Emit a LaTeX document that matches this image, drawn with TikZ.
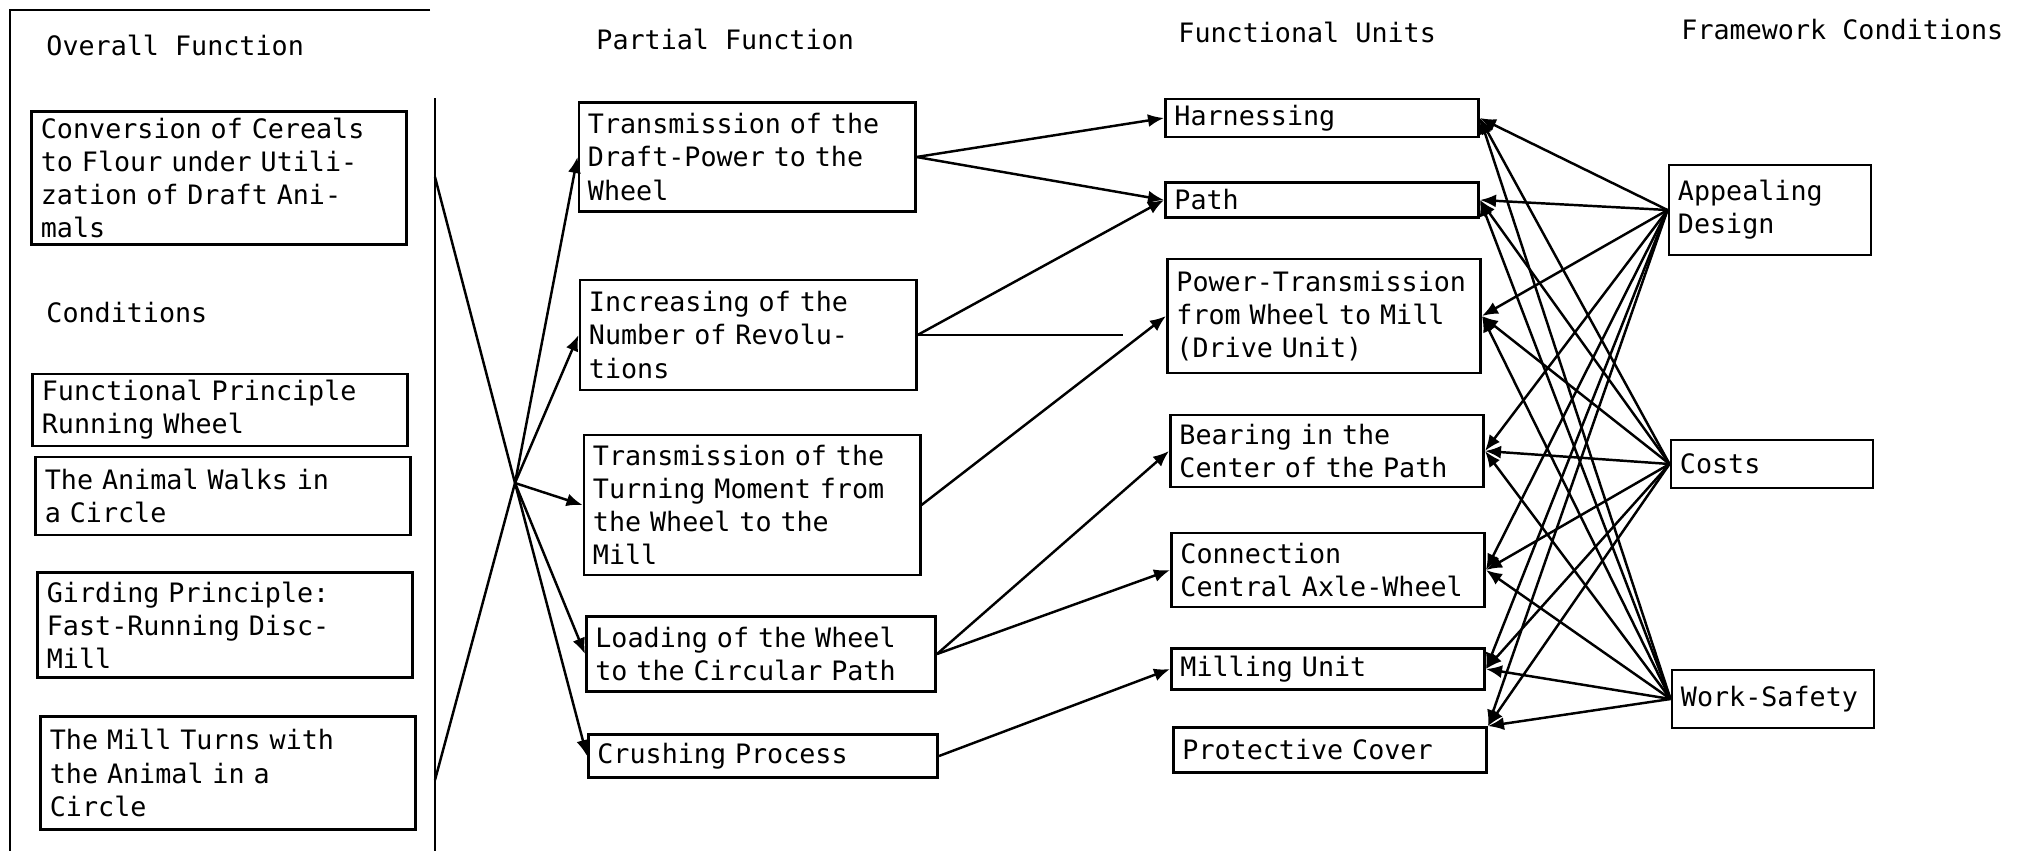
\documentclass[tikz,border=0pt]{standalone}
\usepackage{fontspec}
\setmonofont{DejaVu Sans Mono}
\usetikzlibrary{arrows.meta}

\begin{document}
\begin{tikzpicture}[
    x=0.01cm, y=-0.01cm,
    every node/.style={font=\ttfamily\fontsize{7.6}{9.4}\selectfont},
    funcbox/.style={
      rectangle, draw, line width=0.8pt, align=left,
      inner xsep=0.09cm, inner ysep=0.03cm
    },
    leftbox/.style={funcbox, text width=3.56cm},
    partbox/.style={funcbox, text width=3.18cm},
    unitbox/.style={funcbox, text width=2.95cm},
    condbox/.style={funcbox, text width=1.84cm},
    heading/.style={anchor=west},
    link/.style={line width=0.7pt},
    arr/.style={-{Latex[length=1.6mm, width=1.3mm]}, line width=0.7pt}
  ]
    \useasboundingbox (0,0) rectangle (2029,851);

    % overall function frame
    \draw[line width=0.8pt] (430,10) -- (10,10) -- (10,851);
    \draw[line width=0.8pt] (435,98) -- (435,851);

    \node[heading] (hOverall) at (34,45) {Overall Function};
    \node[heading] (hCond) at (34,313) {Conditions};
    \node[heading] (hPartial) at (584,39) {Partial Function};
    \node[heading] (hUnits) at (1166,32) {Functional Units};
    \node[heading] (hFrame) at (1669,30) {Framework Conditions};

    \node[leftbox, minimum height=1.33cm] (conv) at (219,178) {Conversion of Cereals\\to Flour under Utili-\\zation of Draft Ani-\\mals};
    \node[leftbox, minimum height=0.72cm] (princ) at (220,410) {Functional Principle\\Running Wheel};
    \node[leftbox, minimum height=0.78cm] (walk) at (223,496) {The Animal Walks in\\a Circle};
    \node[leftbox, minimum height=1.05cm] (gird) at (225,625) {Girding Principle:\\Fast-Running Disc-\\Mill};
    \node[leftbox, minimum height=1.13cm] (turns) at (228,773) {The Mill Turns with\\the Animal in a\\Circle};

    % partial functions
    \node[partbox, minimum height=1.09cm] (draft) at (747,157) {Transmission of the\\Draft-Power to the\\Wheel};
    \node[partbox, minimum height=1.10cm] (incr) at (748,335) {Increasing of the\\Number of Revolu-\\tions};
    \node[partbox, minimum height=1.40cm] (turn) at (752,505) {Transmission of the\\Turning Moment from\\the Wheel to the\\Mill};
    \node[partbox, text width=3.31cm, minimum height=0.75cm] (load) at (761,654) {Loading of the Wheel\\to the Circular Path};
    \node[partbox, text width=3.31cm, minimum height=0.43cm] (crush) at (763,756) {Crushing Process};

    % functional units
    \node[unitbox, minimum height=0.38cm] (harn) at (1322,118) {Harnessing};
    \node[unitbox, minimum height=0.35cm] (path) at (1322,200) {Path};
    \node[unitbox, minimum height=1.14cm] (ptrans) at (1324,316) {Power-Transmission\\from Wheel to Mill\\(Drive Unit)};
    \node[unitbox, minimum height=0.72cm] (bear) at (1327,451) {Bearing in the\\Center of the Path};
    \node[unitbox, minimum height=0.74cm] (axle) at (1328,570) {Connection\\Central Axle-Wheel};
    \node[unitbox, minimum height=0.41cm] (mill) at (1328,669) {Milling Unit};
    \node[unitbox, minimum height=0.45cm] (cover) at (1330,750) {Protective Cover};

    % framework conditions
    \node[condbox, minimum height=0.90cm] (appeal) at (1770,210) {Appealing\\Design};
    \node[condbox, minimum height=0.48cm] (costs) at (1772,464) {Costs};
    \node[condbox, minimum height=0.58cm] (safety) at (1773,699) {Work-Safety};

    \coordinate (ofTop) at (435,177);
    \coordinate (ofBot) at (435,780);
    \coordinate (hub) at (515,483);
    \coordinate (revEnd) at (1123,335);

    \draw[link] (ofTop) -- (hub) (ofBot) -- (hub);
    \foreach \p in {draft,incr,turn,load,crush}
      \draw[arr] (hub) -- (\p.west);

    \draw[arr] (draft.east) -- (harn.west);
    \draw[arr] (draft.east) -- (path.west);
    \draw[arr] (incr.east) -- (path.west);
    \draw[link] (incr.east) -- (revEnd);
    \draw[arr] (turn.east) -- (ptrans.west);
    \draw[arr] (load.east) -- (bear.west);
    \draw[arr] (load.east) -- (axle.west);
    \draw[arr] (crush.east) -- (mill.west);

    \foreach \f in {appeal,costs,safety}
      \foreach \u in {harn.east,path.east,ptrans.east,bear.east,axle.east,mill.east,cover.north east}
        \draw[arr] (\f.west) -- (\u);
  \end{tikzpicture}
\end{document}
